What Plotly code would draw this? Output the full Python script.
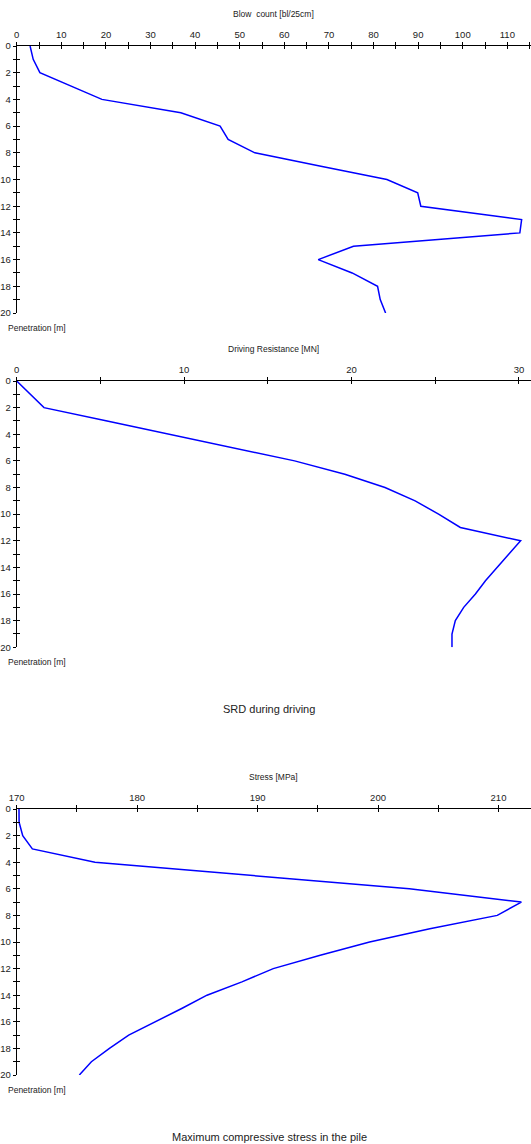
import plotly.graph_objects as go

depth = list(range(0, 21))
blow_count = [3.0, 3.7, 5.2, 12.0, 19.1, 36.8, 45.6, 47.4, 53.4, 68.2, 83.0, 89.9, 90.6,
              113.2, 112.8, 75.5, 67.6, 75.2, 80.9, 81.5, 82.7]
srd = [0.0, 0.8, 1.63, 5.4, 9.2, 12.9, 16.6, 19.6, 22.0, 23.8, 25.2, 26.5, 30.1,
       29.4, 28.7, 28.0, 27.4, 26.7, 26.2, 26.0, 26.0]
stress = [170.19, 170.2, 170.5, 171.3, 176.5, 189.3, 202.6, 211.9, 209.9, 204.3, 199.3,
          195.2, 191.3, 188.7, 185.8, 183.7, 181.5, 179.3, 177.7, 176.2, 175.2]

x_titles = ["Blow  count [bl/25cm]", "Driving Resistance [MN]", "Stress [MPa]"]
y_title = "Penetration [m]"
chart_titles = ["", "SRD during driving", "Maximum compressive stress in the pile"]
x_ranges = [[0, 115.3], [0, 30.72], [170, 212.7]]
x_dticks = [10, 10, 10]
x_minor = [5, 5, 5]

W, H = 531, 1144
FONT = "Liberation Sans, Arial, sans-serif"
x0 = 16.7 / W
# pixel rows of top axis and bottom (20 m) per panel
rows = [(46, 313), (381, 647.3), (809, 1075)]

fig = go.Figure()
series = [blow_count, srd, stress]
for i, vals in enumerate(series):
    k = i + 1
    sx = "" if k == 1 else str(k)
    fig.add_trace(go.Scatter(x=vals, y=depth, mode="lines",
                             line=dict(color="#0000FF", width=1.5),
                             xaxis="x" + sx, yaxis="y" + sx, showlegend=False))

layout = dict(width=W, height=H, margin=dict(l=0, r=0, t=0, b=0, autoexpand=False),
              paper_bgcolor="white", plot_bgcolor="white",
              font=dict(family=FONT, size=9, color="#222"))
annotations = []
for i in range(3):
    k = i + 1
    top, bot = rows[i]
    dom_y = [1 - bot / H, 1 - top / H]
    sx = "" if k == 1 else str(k)
    common_x = dict(domain=[x0, 1], range=x_ranges[i], side="top", showgrid=False,
                    zeroline=False, showline=True, linecolor="black", linewidth=1,
                    tickmode="linear", tick0=x_ranges[i][0], dtick=x_dticks[i],
                    ticklen=3, tickcolor="black", fixedrange=True, automargin=False,
                    tickfont=dict(size=9.5, family=FONT, color="#222"),
                    minor=dict(dtick=x_minor[i], tick0=x_ranges[i][0], ticklen=3,
                               tickcolor="black", showgrid=False))
    common_y = dict(domain=dom_y, range=[20, 0], showgrid=False, zeroline=False,
                    showline=True, linecolor="black", linewidth=1,
                    tickmode="linear", tick0=0, dtick=2, ticklen=3, tickcolor="black",
                    fixedrange=True, automargin=False,
                    tickfont=dict(size=9.5, family=FONT, color="#222"),
                    minor=dict(dtick=1, tick0=0, ticklen=3, tickcolor="black",
                               showgrid=False))
    layout["xaxis" + sx] = dict(common_x, anchor="y" + sx, ticks="outside",
                                minor=dict(common_x["minor"], ticks="outside"))
    layout["yaxis" + sx] = dict(common_y, anchor="x" + sx, ticks="outside",
                                minor=dict(common_y["minor"], ticks="outside"))
    # overlay axes to make ticks cross the axis line
    ox, oy = str(k + 3), str(k + 3)
    layout["xaxis" + ox] = dict(common_x, anchor="y" + sx, overlaying="x" + sx,
                                ticks="inside", showticklabels=False,
                                minor=dict(common_x["minor"], ticks="inside"))
    layout["yaxis" + oy] = dict(common_y, anchor="x" + sx, overlaying="y" + sx,
                                ticks="inside", showticklabels=False,
                                minor=dict(common_y["minor"], ticks="inside"))
    fig.add_trace(go.Scatter(x=[None], y=[None], xaxis="x" + ox, yaxis="y" + oy,
                             showlegend=False, hoverinfo="skip"))
    annotations.append(dict(text=x_titles[i], x=(x0 + 1) / 2, y=1 - (top - 32) / H,
                            xref="paper", yref="paper", showarrow=False,
                            xanchor="center", yanchor="middle",
                            font=dict(size=8.5, family=FONT, color="#222")))
    annotations.append(dict(text=y_title, x=6 / W, y=1 - (bot + 15) / H,
                            xref="paper", yref="paper", showarrow=False,
                            xanchor="left", yanchor="middle",
                            font=dict(size=8.5, family=FONT, color="#222")))
    if chart_titles[i]:
        ty = 709 if i == 1 else 1137
        annotations.append(dict(text=chart_titles[i], x=269 / W, y=1 - ty / H,
                                xref="paper", yref="paper", showarrow=False,
                                xanchor="center", yanchor="middle",
                                font=dict(size=11, family=FONT, color="#222")))
layout["annotations"] = annotations
fig.update_layout(**layout)
fig.write_html("out.html", config={"displayModeBar": False},
               post_script="document.body.style.margin='0';"
                           "document.body.style.overflow='hidden';")
